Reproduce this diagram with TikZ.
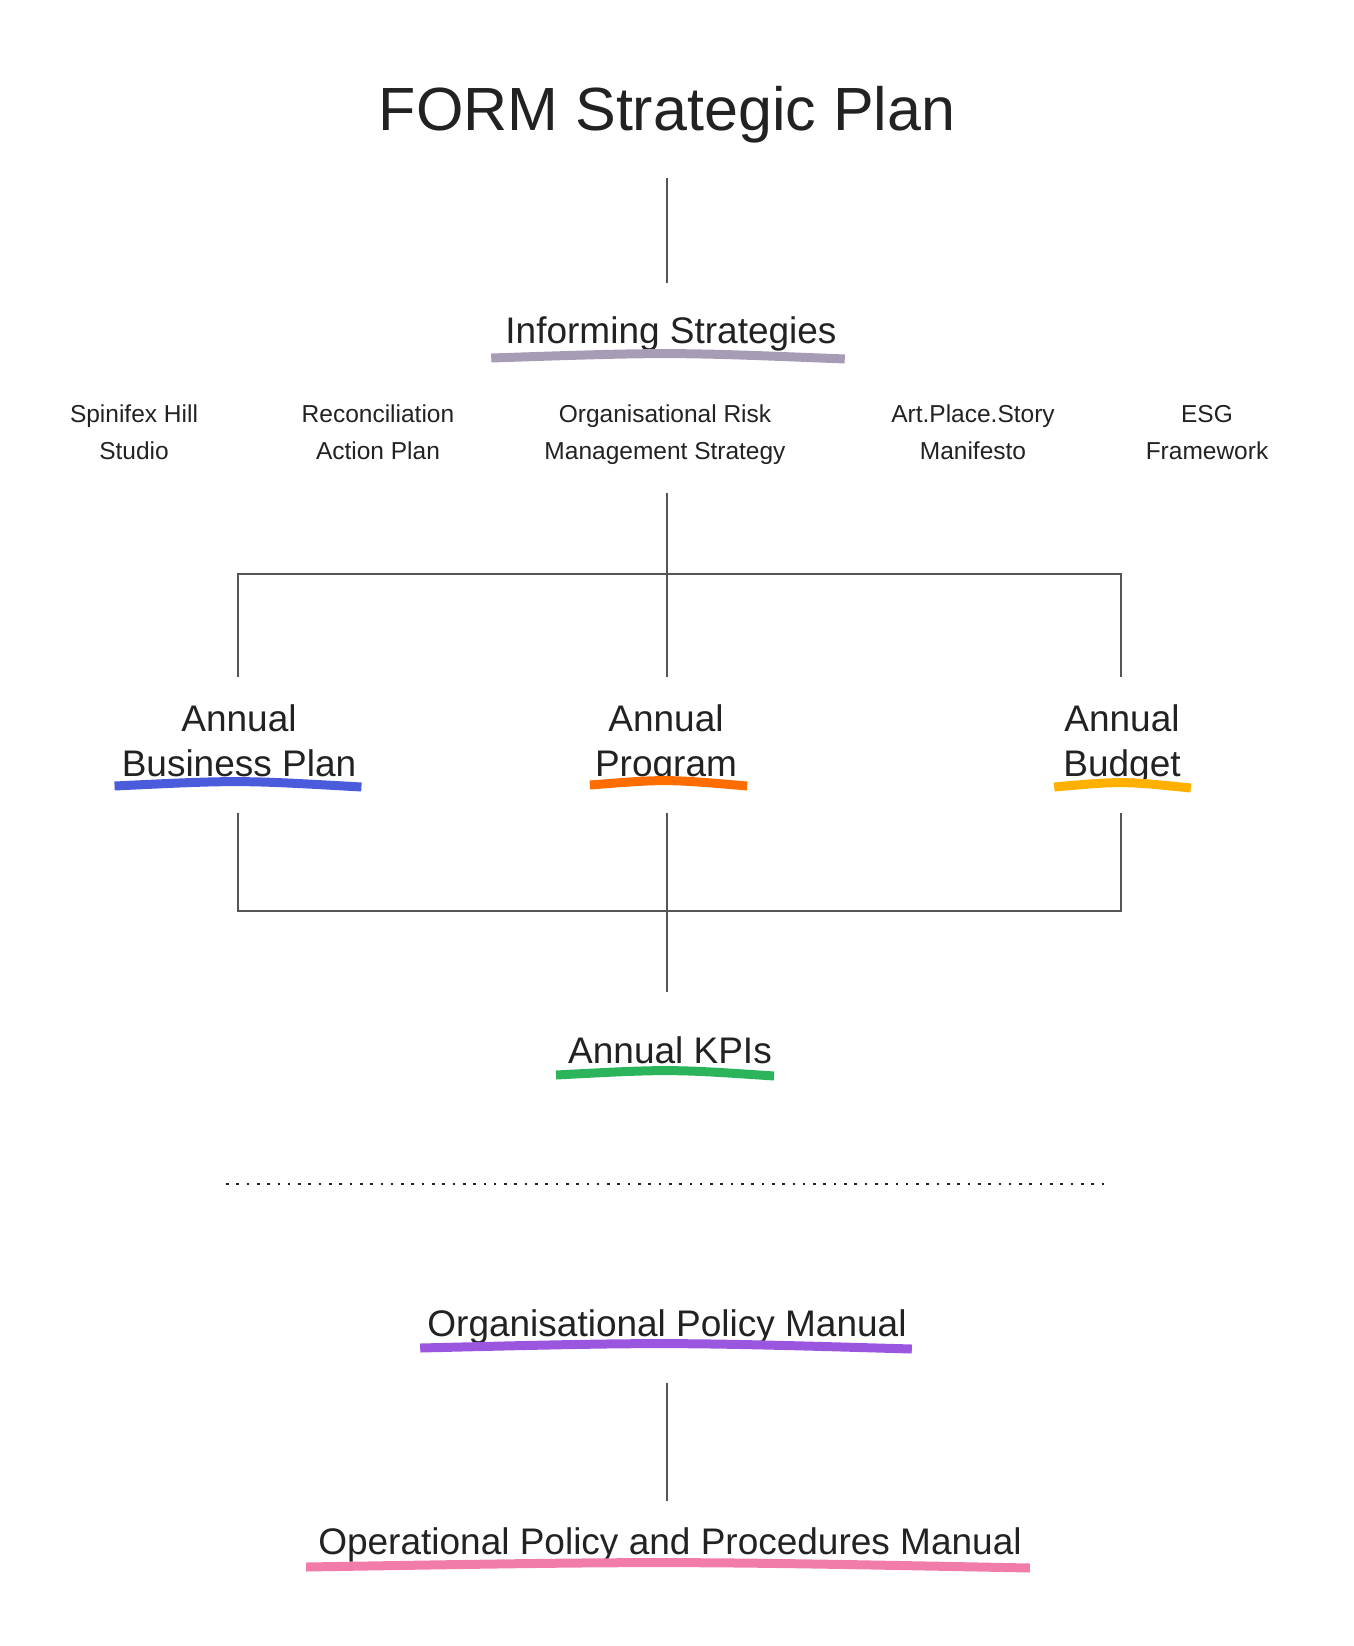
\documentclass[tikz,border=0pt]{standalone}
\usepackage{fontspec}
\setmainfont{Liberation Sans}
\usetikzlibrary{positioning}
\definecolor{ink}{HTML}{222222}
\definecolor{rulegray}{HTML}{555555}
\definecolor{strategylilac}{HTML}{A69CB6}
\definecolor{businessblue}{HTML}{4A5BDB}
\definecolor{programorange}{HTML}{FF6C00}
\definecolor{budgetamber}{HTML}{FFB000}
\definecolor{kpigreen}{HTML}{2CB45C}
\definecolor{policypurple}{HTML}{9B56E0}
\definecolor{procedurepink}{HTML}{F27CA9}

% hand-drawn underline below a node: colour, node, left and right overhang, drop below baseline
\newcommand\brushline[5]{%
    \draw[brush=#1] ([shift={(-#3,#5)}]#2.base west)
        .. controls ([shift={(0,#5-6)}]#2.base) .. ([shift={(#4,#5+1)}]#2.base east);}

\begin{document}
\begin{tikzpicture}[
    x=1pt, y=-1pt,
    text=ink,
    title/.style={font=\fontsize{61}{70}\selectfont, inner sep=0pt, anchor=base},
    heading/.style={font=\fontsize{37}{45}\selectfont, inner sep=0pt,
        anchor=base, align=center},
    source/.style={font=\fontsize{24.5}{37}\selectfont, inner sep=0pt,
        anchor=base, align=center},
    link/.style={draw=rulegray, line width=1.1pt},
    brush/.style={draw=#1, line width=9pt},
    divider/.style={draw=ink, line width=2.8pt, dash pattern=on 2.6pt off 7.7pt}
]
\useasboundingbox (0,0) rectangle (1354,1646);

\node[title] (plan) at (667,130) {FORM Strategic Plan};
\node[heading] (inform) at (671,343) {Informing Strategies};

% multi-line nodes sit on the baseline of their last line
\node[source] (spinifex) at (134,459) {Spinifex Hill\\Studio};
\node[source] (reconciliation) at (378,459) {Reconciliation\\Action Plan};
\node[source] (risk) at (665,459) {Organisational Risk\\Management Strategy};
\node[source] (manifesto) at (973,459) {Art.Place.Story\\Manifesto};
\node[source] (esg) at (1207,459) {ESG\\Framework};

\node[heading] (business) at (239,776) {Annual\\Business Plan};
\node[heading] (program) at (666,776) {Annual\\Program};
\node[heading] (budget) at (1122,776) {Annual\\Budget};

\node[heading] (kpis) at (670,1063) {Annual KPIs};
\node[heading] (policy) at (667,1336) {Organisational Policy Manual};
\node[heading] (operations) at (670,1554) {Operational Policy and Procedures Manual};

% connector ends
\coordinate (planfoot) at (667,178);
\coordinate (informtop) at (667,283);
\coordinate (sourcefoot) at (667,493);
\coordinate (forkwest) at (238,574);
\coordinate (forkeast) at (1121,574);
\coordinate (businesstop) at (238,677);
\coordinate (programtop) at (667,677);
\coordinate (budgettop) at (1121,677);
\coordinate (businessfoot) at (238,813);
\coordinate (programfoot) at (667,813);
\coordinate (budgetfoot) at (1121,813);
\coordinate (joinwest) at (238,911);
\coordinate (joineast) at (1121,911);
\coordinate (kpistop) at (667,992);
\coordinate (dividerwest) at (226,1184);
\coordinate (dividereast) at (1109,1184);
\coordinate (policyfoot) at (667,1383);
\coordinate (operationstop) at (667,1501);

\draw[link] (planfoot) -- (informtop);
\draw[link] (sourcefoot) -- (programtop);
\draw[link] (businesstop) -- (forkwest) -- (forkeast) -- (budgettop);
\draw[link] (businessfoot) -- (joinwest) -- (joineast) -- (budgetfoot);
\draw[link] (programfoot) -- (kpistop);
\draw[divider] (dividerwest) -- (dividereast);
\draw[link] (policyfoot) -- (operationstop);

\brushline{strategylilac}{inform}{14}{8}{15}
\brushline{businessblue}{business}{7}{5}{10}
\brushline{programorange}{program}{5}{10}{9}
\brushline{budgetamber}{budget}{9}{10}{11}
\brushline{kpigreen}{kpis}{12}{2}{12}
\brushline{policypurple}{policy}{7}{5}{12}
\brushline{procedurepink}{operations}{12}{8}{13}

\end{tikzpicture}
\end{document}
